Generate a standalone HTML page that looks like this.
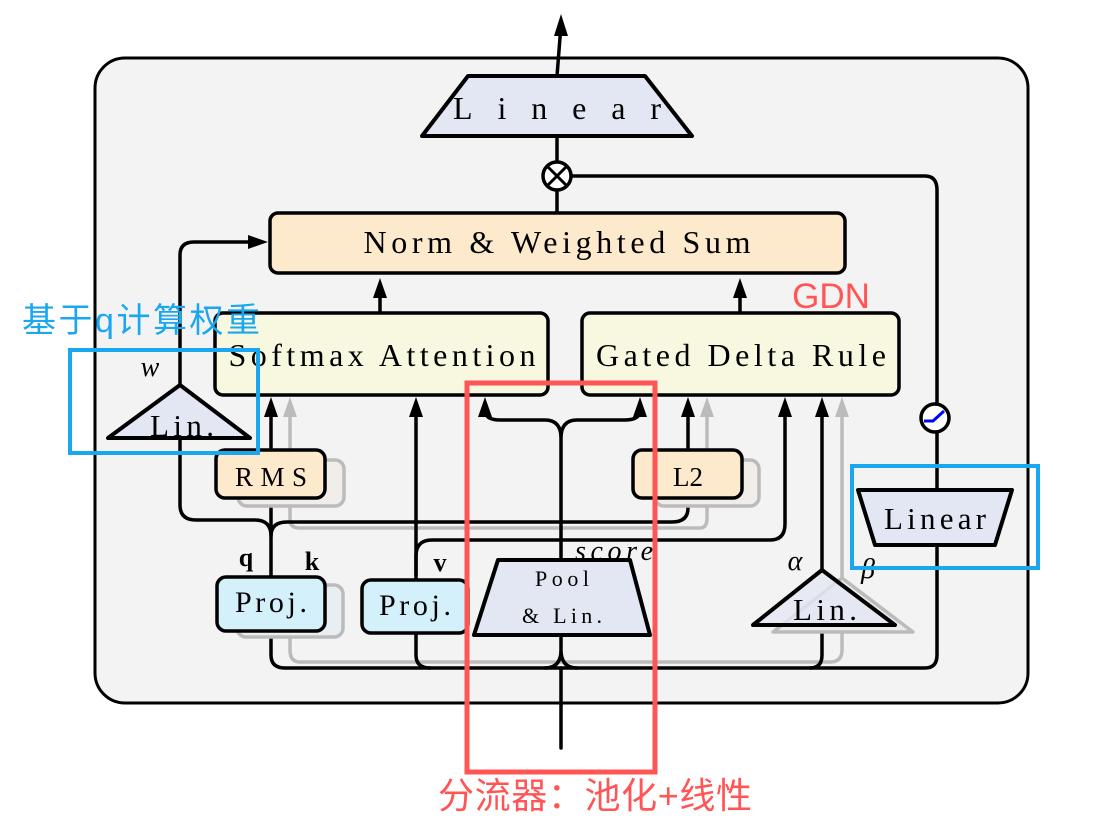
<!DOCTYPE html>
<html><head><meta charset="utf-8"><style>body{margin:0;background:#fff}svg{display:block}</style></head><body>
<svg width="1107" height="839" viewBox="0 0 1107 839" xmlns="http://www.w3.org/2000/svg" font-family="Liberation Serif, serif">
<rect x="95" y="58" width="933" height="645" rx="30" fill="#f3f3f3" stroke="#000" stroke-width="3"/>
<g fill="none" stroke-width="3.5" stroke-linecap="round">
<g stroke="#bbb">
<path d="M290 405 V520 Q290 528 300 528 H700 Q707 528 707 518 V405"/>
<path d="M842 405 V650 Q842 662 830 662 H300 Q290 662 290 650 V600"/>
</g>
<g stroke="#000">
<path d="M557 76 L561 25"/>
<path d="M557 136 V162 M557 190 V213"/>
<path d="M571 176 H925 Q937 176 937 190 V404"/>
<path d="M937 432 V490"/><path d="M937 545 V655 Q937 668 925 668 H285 Q271 668 271 655 V631"/>
<path d="M416 633 V655 Q416 668 430 668"/>
<path d="M822 625 V655 Q822 668 810 668"/>
<path d="M561 635 V650 Q561 668 545 668 M561 650 Q561 668 577 668 M561 668 V748"/>
<path d="M380 313 V285"/><path d="M740 313 V285"/>
<path d="M180 385 V255 Q180 242 194 242 H255"/>
<path d="M180 438 V505 Q180 520 196 520 H255 Q271 520 271 536 M271 577 V498 M271 450 V410"/>
<path d="M271 536 Q271 522 287 522 H672 Q688 522 688 508 V498 M688 450 V410"/>
<path d="M416 580 V410"/>
<path d="M416 575 V556 Q416 540 432 540 H770 Q785 540 785 524 V410"/>
<path d="M822 570 V410"/>
<path d="M561 560 V438 Q561 420 545 420 H500 Q485 420 485 410 M561 438 Q561 420 577 420 H625 Q640 420 640 410"/>
</g>
</g>
<g fill="#000">
<path d="M561 14 L554 36 L568 36Z"/>
<path d="M380 278 L373 298 L387 298Z"/><path d="M740 278 L733 298 L747 298Z"/>
<path d="M268 242 L248 235 L248 249Z"/>
<path d="M271 397 L264 417 L278 417Z"/><path d="M416 397 L409 417 L423 417Z"/>
<path d="M485 397 L478 417 L492 417Z"/><path d="M640 397 L633 417 L647 417Z"/>
<path d="M688 397 L681 417 L695 417Z"/><path d="M785 397 L778 417 L792 417Z"/><path d="M822 397 L815 417 L829 417Z"/>
</g>
<g fill="#bbb"><path d="M290 397 L283 417 L297 417Z"/><path d="M707 397 L700 417 L714 417Z"/><path d="M842 397 L835 417 L849 417Z"/></g>
<g stroke="#000" stroke-width="3.5" stroke-linejoin="round">
<path d="M468 76 H645 L692 136 H422Z" fill="#e3e6f3" stroke-width="4"/>
<circle cx="557" cy="176" r="14" fill="#fff"/>
<path d="M547 166 L567 186 M567 166 L547 186" stroke-width="3"/>
<rect x="270" y="213" width="575" height="60" rx="8" fill="#fde9cc"/>
<rect x="215" y="313" width="333" height="82" rx="8" fill="#f8f8e0"/>
<rect x="582" y="313" width="317" height="82" rx="8" fill="#f8f8e0"/>
<path d="M180 385 L250 438 H108Z" fill="#e3e6f3" stroke-width="4"/>
<rect x="238" y="460" width="106" height="46" rx="9" fill="#f1eee9" stroke="#bbb"/>
<rect x="216" y="450" width="109" height="48" rx="9" fill="#fde9cc"/>
<rect x="655" y="460" width="104" height="46" rx="9" fill="#f1eee9" stroke="#bbb"/>
<rect x="633" y="450" width="109" height="48" rx="9" fill="#fde9cc"/>
<rect x="237" y="585" width="106" height="52" rx="9" fill="#e8eff2" stroke="#bbb"/>
<rect x="217" y="577" width="108" height="54" rx="9" fill="#d4f0fa"/>
<rect x="362" y="580" width="106" height="53" rx="9" fill="#d4f0fa"/>
<path d="M498 560 H630 L650 635 H474Z" fill="#e3e6f3" stroke-width="4"/>
<path d="M842 578 L913 632 H773Z" fill="#ece9ef" stroke="#bbb"/>
<path d="M822 570 L895 625 H753Z" fill="#e3e6f3" fill-opacity="0.8" stroke-width="4"/>
<path d="M858 490 H1012 L995 545 H875Z" fill="#e3e6f3" stroke-width="4"/>
<circle cx="935" cy="418" r="14" fill="#fff"/>
</g>
<path d="M924 421 H933 L944 411" stroke="#00f" stroke-width="3" fill="none"/>
<g font-size="32" text-anchor="middle" fill="#000">
<text x="557" y="119" textLength="208">Linear</text>
<text x="557" y="253" textLength="387">Norm &amp; Weighted Sum</text>
<text x="382" y="366" textLength="307">Softmax Attention</text>
<text x="741" y="366" textLength="290">Gated Delta Rule</text>
<text x="182" y="436" font-size="31" textLength="64">Lin.</text>
<text x="271" y="486" font-size="27" textLength="72">RMS</text>
<text x="688" y="486" font-size="27">L2</text>
<text x="271" y="612" font-size="30" textLength="72">Proj.</text>
<text x="415" y="615" font-size="30" textLength="72">Proj.</text>
<text x="562" y="586" font-size="22" textLength="54">Pool</text>
<text x="562" y="623" font-size="22" textLength="80">&amp; Lin.</text>
<text x="825" y="620" font-size="31" textLength="64">Lin.</text>
<text x="935" y="529" font-size="31" textLength="102">Linear</text>
<text x="150" y="376" font-size="28" font-style="italic">w</text>
<text x="246" y="566" font-size="26" font-weight="bold">q</text>
<text x="312" y="570" font-size="26" font-weight="bold">k</text>
<text x="440" y="571" font-size="26" font-weight="bold">v</text>
<text x="614" y="560" font-size="28" font-style="italic" textLength="78">score</text>
<text x="795" y="570" font-size="28" font-style="italic">α</text>
<text x="868" y="578" font-size="28" font-style="italic">β</text>
</g>
<text x="831" y="308" font-size="35" text-anchor="middle" fill="#f55" font-family="Liberation Sans, sans-serif">GDN</text>
<rect x="70" y="350" width="188" height="103" fill="none" stroke="#1aa7f0" stroke-width="4"/>
<rect x="852" y="466" width="186" height="102" fill="none" stroke="#1aa7f0" stroke-width="4"/>
<rect x="467" y="383" width="188" height="389" fill="none" stroke="#f55" stroke-width="5"/>
<text x="22" y="332" font-size="34" fill="#1aa7f0" font-family="Liberation Sans, Noto Sans CJK SC, sans-serif" textLength="238">基于q计算权重</text>
<text x="595" y="808" font-size="36" text-anchor="middle" fill="#f55" font-family="Liberation Sans, Noto Sans CJK SC, sans-serif" textLength="314">分流器：池化+线性</text>
</svg>
</body></html>
